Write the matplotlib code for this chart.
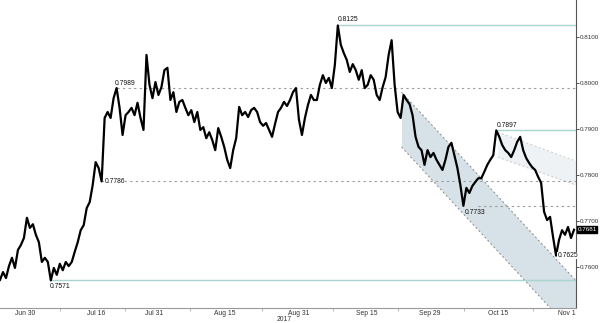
import numpy as np
import matplotlib
matplotlib.use("Agg")
import matplotlib.pyplot as plt
import matplotlib.transforms as mtransforms

plt.rcParams['font.family'] = ['Liberation Sans', 'DejaVu Sans']

# price samples (evenly spaced)
price = [0.7572, 0.7589, 0.7576, 0.7602, 0.7620, 0.7598, 0.7637, 0.7648, 0.7663, 0.7707,
         0.7685, 0.7693, 0.7670, 0.7654, 0.7611, 0.7620, 0.7611, 0.7571, 0.7598, 0.7583,
         0.7607, 0.7593, 0.7611, 0.7602, 0.7611, 0.7633, 0.7654, 0.7680, 0.7691, 0.7728,
         0.7741, 0.7778, 0.7828, 0.7815, 0.7786, 0.7924, 0.7937, 0.7924, 0.7967, 0.7989,
         0.7946, 0.7887, 0.7930, 0.7937, 0.7946, 0.7930, 0.7957, 0.7924, 0.7898, 0.8061,
         0.7996, 0.7967, 0.8002, 0.7974, 0.7991, 0.8028, 0.8033, 0.7963, 0.7980, 0.7937,
         0.7959, 0.7963, 0.7946, 0.7930, 0.7941, 0.7915, 0.7937, 0.7898, 0.7904, 0.7880,
         0.7893, 0.7876, 0.7854, 0.7902, 0.7883, 0.7861, 0.7833, 0.7815, 0.7854, 0.7880,
         0.7948, 0.7930, 0.7937, 0.7926, 0.7941, 0.7946, 0.7937, 0.7915, 0.7907, 0.7913,
         0.7898, 0.7883, 0.7911, 0.7937, 0.7946, 0.7959, 0.7950, 0.7963, 0.7980, 0.7989,
         0.7920, 0.7887, 0.7924, 0.7952, 0.7974, 0.7963, 0.7963, 0.7996, 0.8017, 0.8000,
         0.8011, 0.7989, 0.8039, 0.8125, 0.8083, 0.8065, 0.8050, 0.8024, 0.8041, 0.8028,
         0.8007, 0.8028, 0.7989, 0.7996, 0.8017, 0.8007, 0.7974, 0.7963, 0.7991, 0.8013,
         0.8061, 0.8093, 0.7996, 0.7937, 0.7924, 0.7974, 0.7963, 0.7954, 0.7930, 0.7883,
         0.7861, 0.7854, 0.7822, 0.7854, 0.7839, 0.7848, 0.7833, 0.7822, 0.7811, 0.7833,
         0.7861, 0.7870, 0.7843, 0.7815, 0.7778, 0.7733, 0.7772, 0.7761, 0.7776, 0.7785,
         0.7793, 0.7793, 0.7807, 0.7822, 0.7833, 0.7843, 0.7897, 0.7883, 0.7865, 0.7854,
         0.7848, 0.7839, 0.7854, 0.7872, 0.7883, 0.7854, 0.7837, 0.7826, 0.7817, 0.7811,
         0.7796, 0.7783, 0.7720, 0.7702, 0.7709, 0.7665, 0.7625, 0.7659, 0.7680, 0.7670,
         0.7687, 0.7663, 0.7681]

tick_labels = ['Jun 30', 'Jul 16', 'Jul 31', 'Aug 15', 'Aug 31', 'Sep 15', 'Sep 29', 'Oct 15', 'Nov 1']
tick_pos = [8.3, 32.0, 51.7, 75.3, 100.0, 122.7, 143.7, 166.7, 189.7]

# marked levels: value, sample where it starts
solid_levels = [0.8125, 0.7897, 0.7571, 0.7625]
solid_start = [113, 166, 17, 186]
dashed_levels = [0.7989, 0.7786, 0.7733]
dashed_start = [39, 34, 160]

# level labels: text, sample, value
lab_text = ['0.8125', '0.7989', '0.7897', '0.7786', '0.7733', '0.7571', '0.7625']
lab_idx = [113, 38.5, 166, 35, 155.5, 16.5, 186.5]
lab_val = [0.8125, 0.7989, 0.7897, 0.7786, 0.7733, 0.7571, 0.7625]

# down channel (start sample, end sample, upper line, lower line)
chan_x = [134.3, 192.7]
chan_up = [0.7980, 0.7570]
chan_lo = [0.7861, 0.7450]
# light channel from the Oct high
chan2_x = [166.5, 192.7]
chan2_up = [0.7893, 0.7830]
chan2_lo = [0.7839, 0.7778]

last_price = price[-1]

teal = '#a9d5cf'
dgray = '#9a9a9a'
fs = 4.9
fs_y = 4.5

fig = plt.figure(figsize=(6.0, 3.23), dpi=100)
ax = fig.add_axes([0.0, 15/323, 576/600, 308/323])

x = np.arange(len(price))
xmax = 192.67

# channels
ax.fill_between(chan_x, chan_lo, chan_up, color='#d6e1e8', lw=0, zorder=1)
ax.plot(chan_x, chan_up, color='#8a8a8a', lw=0.7, ls=(0, (2, 2.5)), zorder=2)
ax.plot(chan_x, chan_lo, color='#8a8a8a', lw=0.7, ls=(0, (2, 2.5)), zorder=2)
ax.fill_between(chan2_x, chan2_lo, chan2_up, color='#eef2f5', lw=0, zorder=1)
ax.plot(chan2_x, chan2_up, color='#c8c8c8', lw=0.7, ls=(0, (2, 2.5)), zorder=2)
ax.plot(chan2_x, chan2_lo, color='#c8c8c8', lw=0.7, ls=(0, (2, 2.5)), zorder=2)

for v, s in zip(solid_levels, solid_start):
    ax.plot([s, xmax], [v, v], color=teal, lw=1.0, zorder=2)
for v, s in zip(dashed_levels, dashed_start):
    ax.plot([s, xmax], [v, v], color=dgray, lw=0.8, ls=(0, (2, 3)), zorder=2)

ax.plot(x, price, color='black', lw=1.6, zorder=3)

# labels near the levels
offs = {'0.8125': (0, 2, 'bottom'), '0.7989': (0, 1, 'bottom'), '0.7897': (0, 1, 'bottom'),
        '0.7786': (0, 0, 'center'), '0.7733': (0, -2, 'top'), '0.7571': (0, -2, 'top'),
        '0.7625': (0, 0, 'center')}
for t, i, v in zip(lab_text, lab_idx, lab_val):
    dx, dy, va = offs[t]
    ax.annotate(t, (i, v), xytext=(dx, dy), textcoords='offset points',
                fontsize=fs, ha='left', va=va, color='#111111', zorder=4,
                bbox=dict(boxstyle='square,pad=0.05', fc='white', ec='none') if t in ('0.7786', '0.7625') else None)

ax.set_xlim(0, xmax)
ax.set_ylim(0.75109, 0.81804)

ax.yaxis.tick_right()
ax.set_yticks([0.76, 0.77, 0.78, 0.79, 0.80, 0.81])
ax.set_yticklabels(['0.7600', '0.7700', '0.7800', '0.7900', '0.8000', '0.8100'])
ax.tick_params(axis='y', labelsize=fs_y, length=2, width=0.6, pad=0.5, colors='#333333')

ax.set_xticks(tick_pos)
ax.set_xticklabels(tick_labels)
mid = [(a + b) / 2 for a, b in zip(tick_pos[:-1], tick_pos[1:])]
ax.set_xticks(mid, minor=True)
ax.tick_params(axis='x', which='major', labelsize=fs, length=0, pad=1.5, colors='#333333')
ax.tick_params(axis='x', which='minor', length=2, width=0.5, colors='#999999')

for s in ['top', 'left']:
    ax.spines[s].set_visible(False)
ax.spines['bottom'].set_color('#999999')
ax.spines['right'].set_color('#555555')
ax.spines['bottom'].set_linewidth(0.8)
ax.spines['right'].set_linewidth(0.8)

trans = mtransforms.blended_transform_factory(ax.transData, fig.transFigure)
ax.text(95.0, 0.0, '2017', transform=trans, fontsize=fs, ha='center', va='bottom', color='#333333')

# last price tag
ax.annotate('%.4f' % last_price, xy=(1.0, last_price), xycoords=('axes fraction', 'data'),
            xytext=(1.0, 0), textcoords='offset points', fontsize=fs_y, color='white',
            ha='left', va='center', annotation_clip=False,
            bbox=dict(boxstyle='square,pad=0.12', fc='black', ec='black'))

fig.savefig('out.png', dpi=100, facecolor='white')
